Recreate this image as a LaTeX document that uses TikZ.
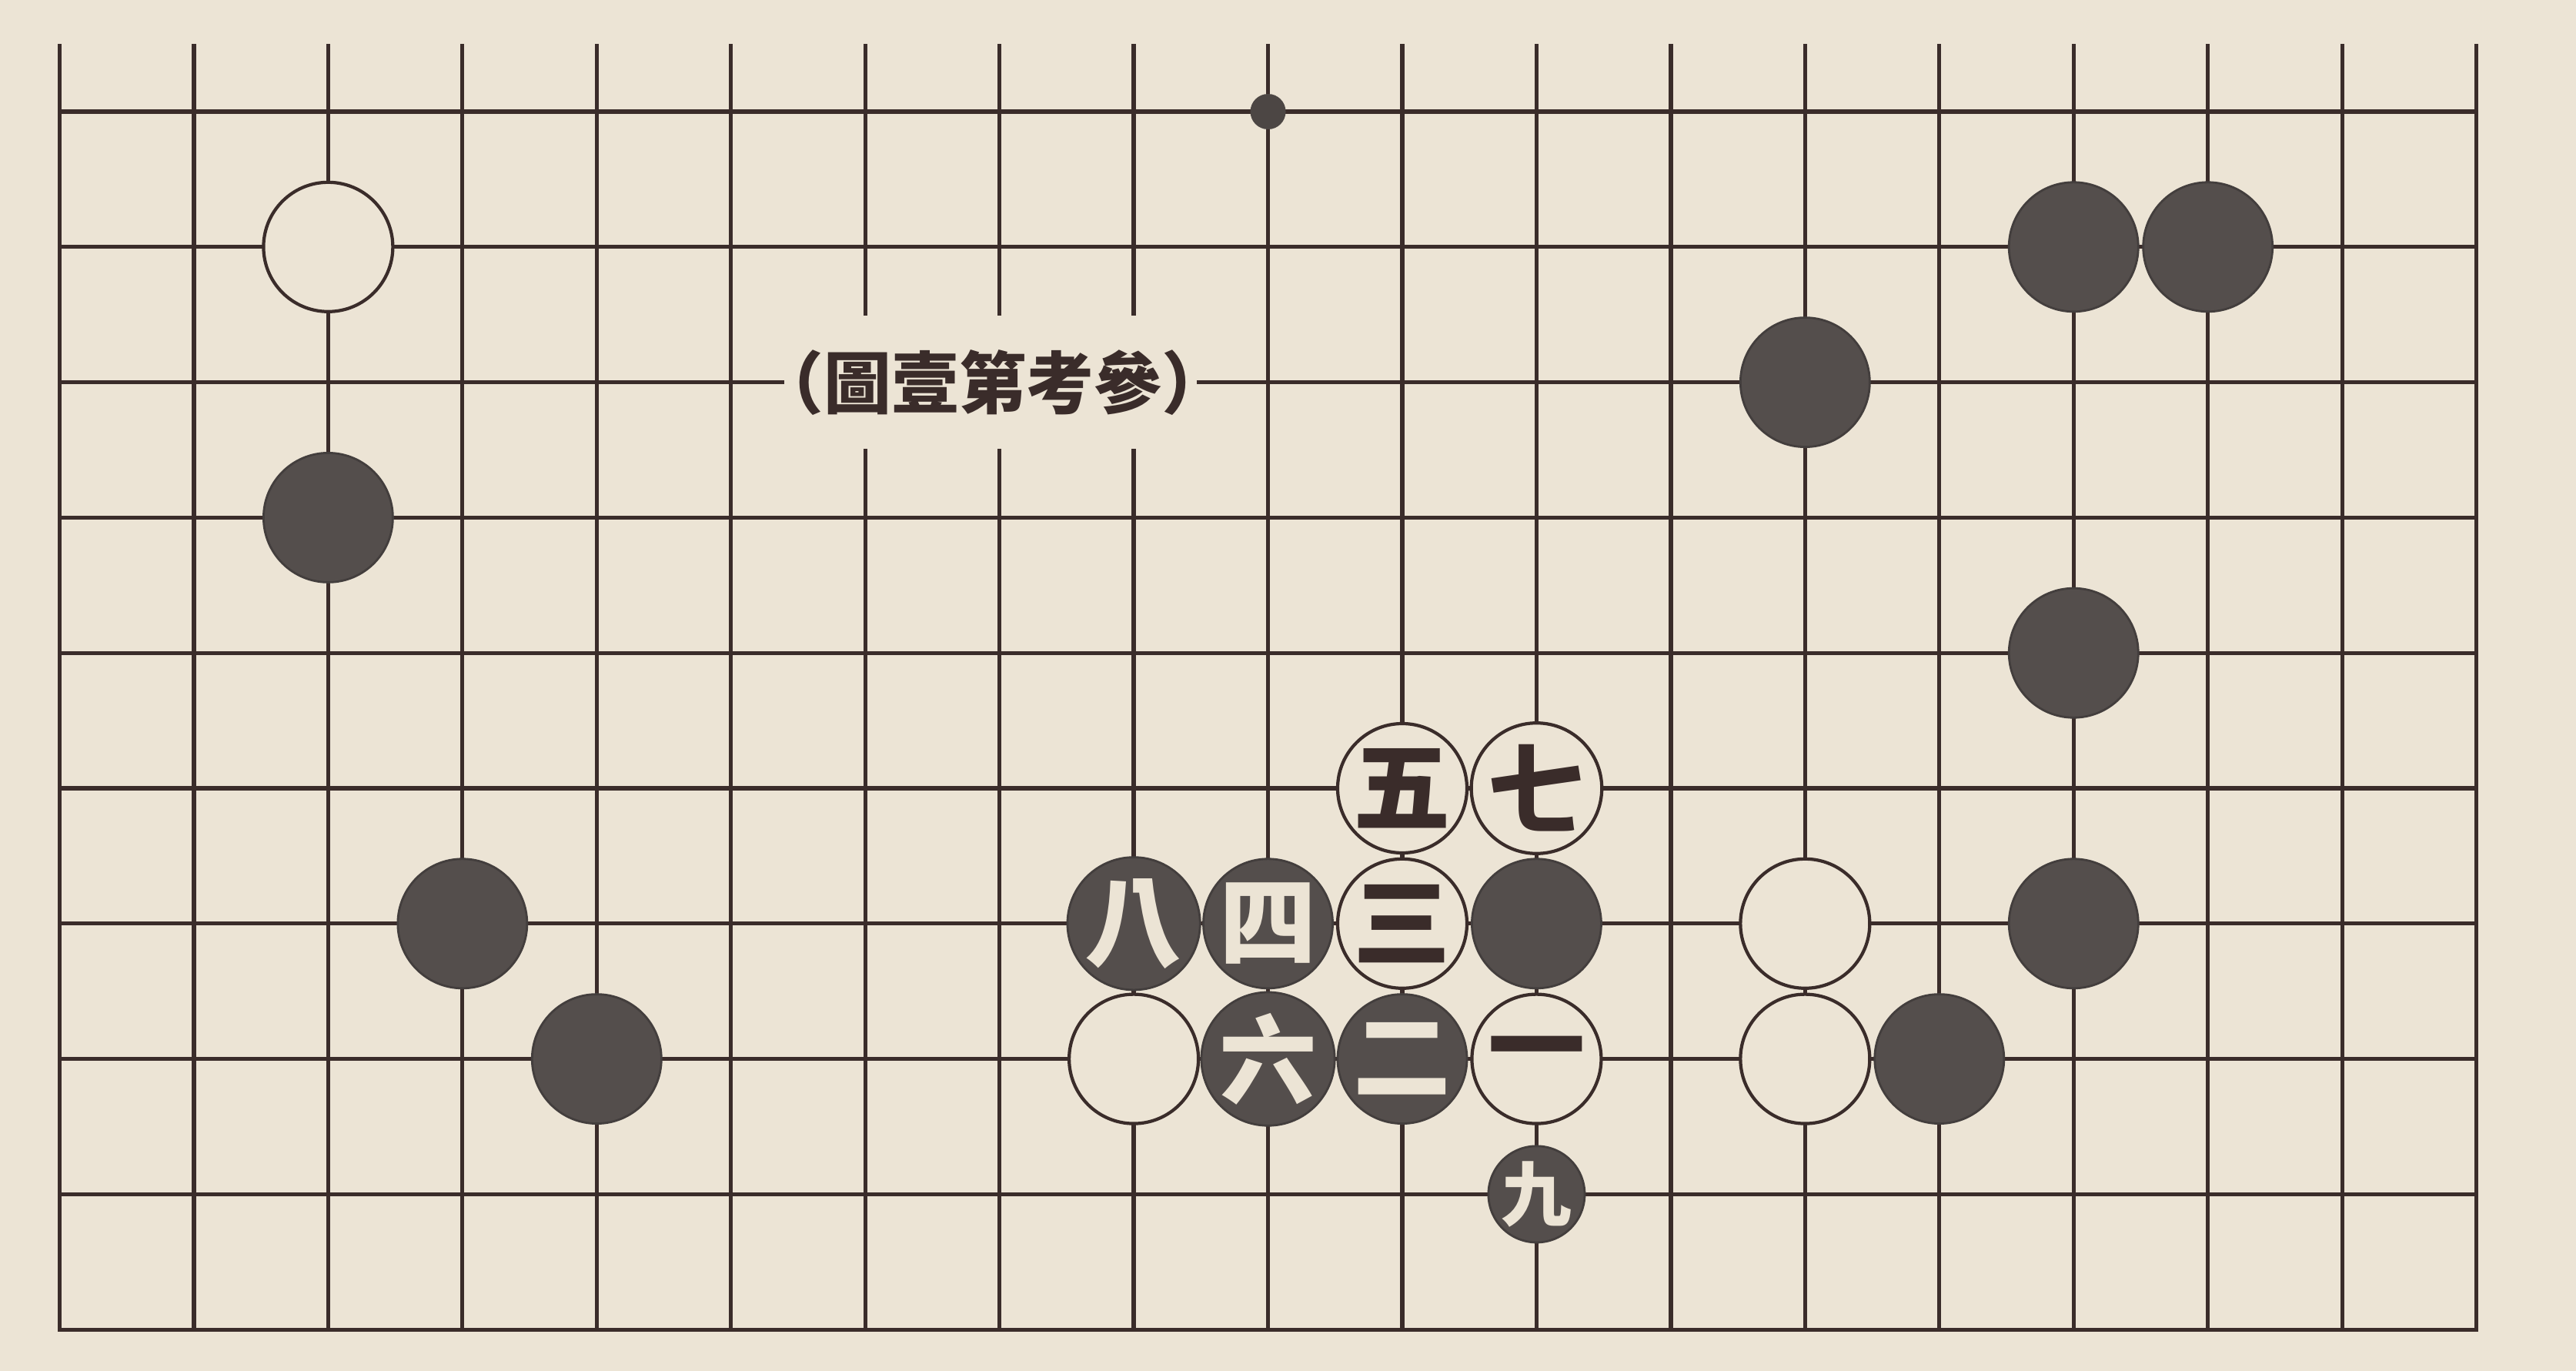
\documentclass[tikz,border=0pt]{standalone}
\usepackage{fontspec}
\newfontfamily\cjk{Noto Sans CJK TC}
\definecolor{paper}{RGB}{236,228,213}
\definecolor{ink}{RGB}{58,44,42}
\definecolor{stone}{RGB}{84,78,76}
\begin{document}
\begin{tikzpicture}[x=1.7445cm,y=-1.758cm,
  gridline/.style={draw=ink,line width=1.5pt},
  wstone/.style={circle,minimum size=1.68cm,inner sep=0pt,fill=paper,draw=ink,line width=1.2pt,
     text=ink,font=\cjk\bfseries\fontsize{36}{36}\selectfont},
  bstone/.style={circle,minimum size=1.68cm,inner sep=0pt,fill=stone,draw=stone!80!black,line width=0.8pt,
     text=paper,font=\cjk\bfseries\fontsize{36}{36}\selectfont},
  smallstone/.style={circle,minimum size=1.22cm,inner sep=0pt,fill=stone,draw=stone!80!black,line width=0.8pt,
     text=paper,font=\cjk\bfseries\fontsize{26}{26}\selectfont},
  stardot/.style={circle,minimum size=0.46cm,inner sep=0pt,fill=stone!90!black},
  gapbox/.style={fill=paper,inner sep=0pt,minimum width=5.36cm,minimum height=1.73cm},
  titletext/.style={inner sep=0pt,text=ink,font=\cjk\bfseries\fontsize{25}{25}\selectfont}]
\fill[paper] (-0.4443,-0.8248) rectangle (18.742,9.306);
\useasboundingbox (-0.4443,-0.8248) rectangle (18.742,9.306);
% grid
\foreach \i in {1,...,17} \draw[gridline] (\i,-0.5) -- (\i,9);
\foreach \j in {0,...,8} \draw[gridline] (0,\j) -- (18,\j);
\draw[gridline,line join=miter] (0,-0.5) -- (0,9) -- (18,9) -- (18,-0.5);
% title
\node[gapbox] (gap) at (6.934,2) {};
\node[titletext] (title) at (6.95,2) {（圖壹第考參）};
% star point
\node[stardot] (tengen) at (9,0) {};
% white stones
\node[wstone] (w1) at (2,1) {};
\node[wstone] (w2) at (13,6) {};
\node[wstone] (w3) at (8,7) {};
\node[wstone] (w4) at (13,7) {};
% black stones
\node[bstone] (b1) at (2,3) {};
\node[bstone] (b2) at (3,6) {};
\node[bstone] (b3) at (4,7) {};
\node[bstone] (b4) at (11,6) {};
\node[bstone] (b5) at (15,6) {};
\node[bstone] (b6) at (14,7) {};
\node[bstone] (b7) at (15,1) {};
\node[bstone] (b8) at (16,1) {};
\node[bstone] (b9) at (13,2) {};
\node[bstone] (b10) at (15,4) {};
% numbered stones
\node[wstone] (m1) at (11,7) {一};
\node[bstone] (m2) at (10,7) {二};
\node[wstone] (m3) at (10,6) {三};
\node[bstone] (m4) at (9,6) {四};
\node[wstone] (m5) at (10,5) {五};
\node[bstone] (m6) at (9,7) {六};
\node[wstone] (m7) at (11,5) {七};
\node[bstone] (m8) at (8,6) {八};
\node[smallstone] (m9) at (11,8) {九};
\end{tikzpicture}
\end{document}
